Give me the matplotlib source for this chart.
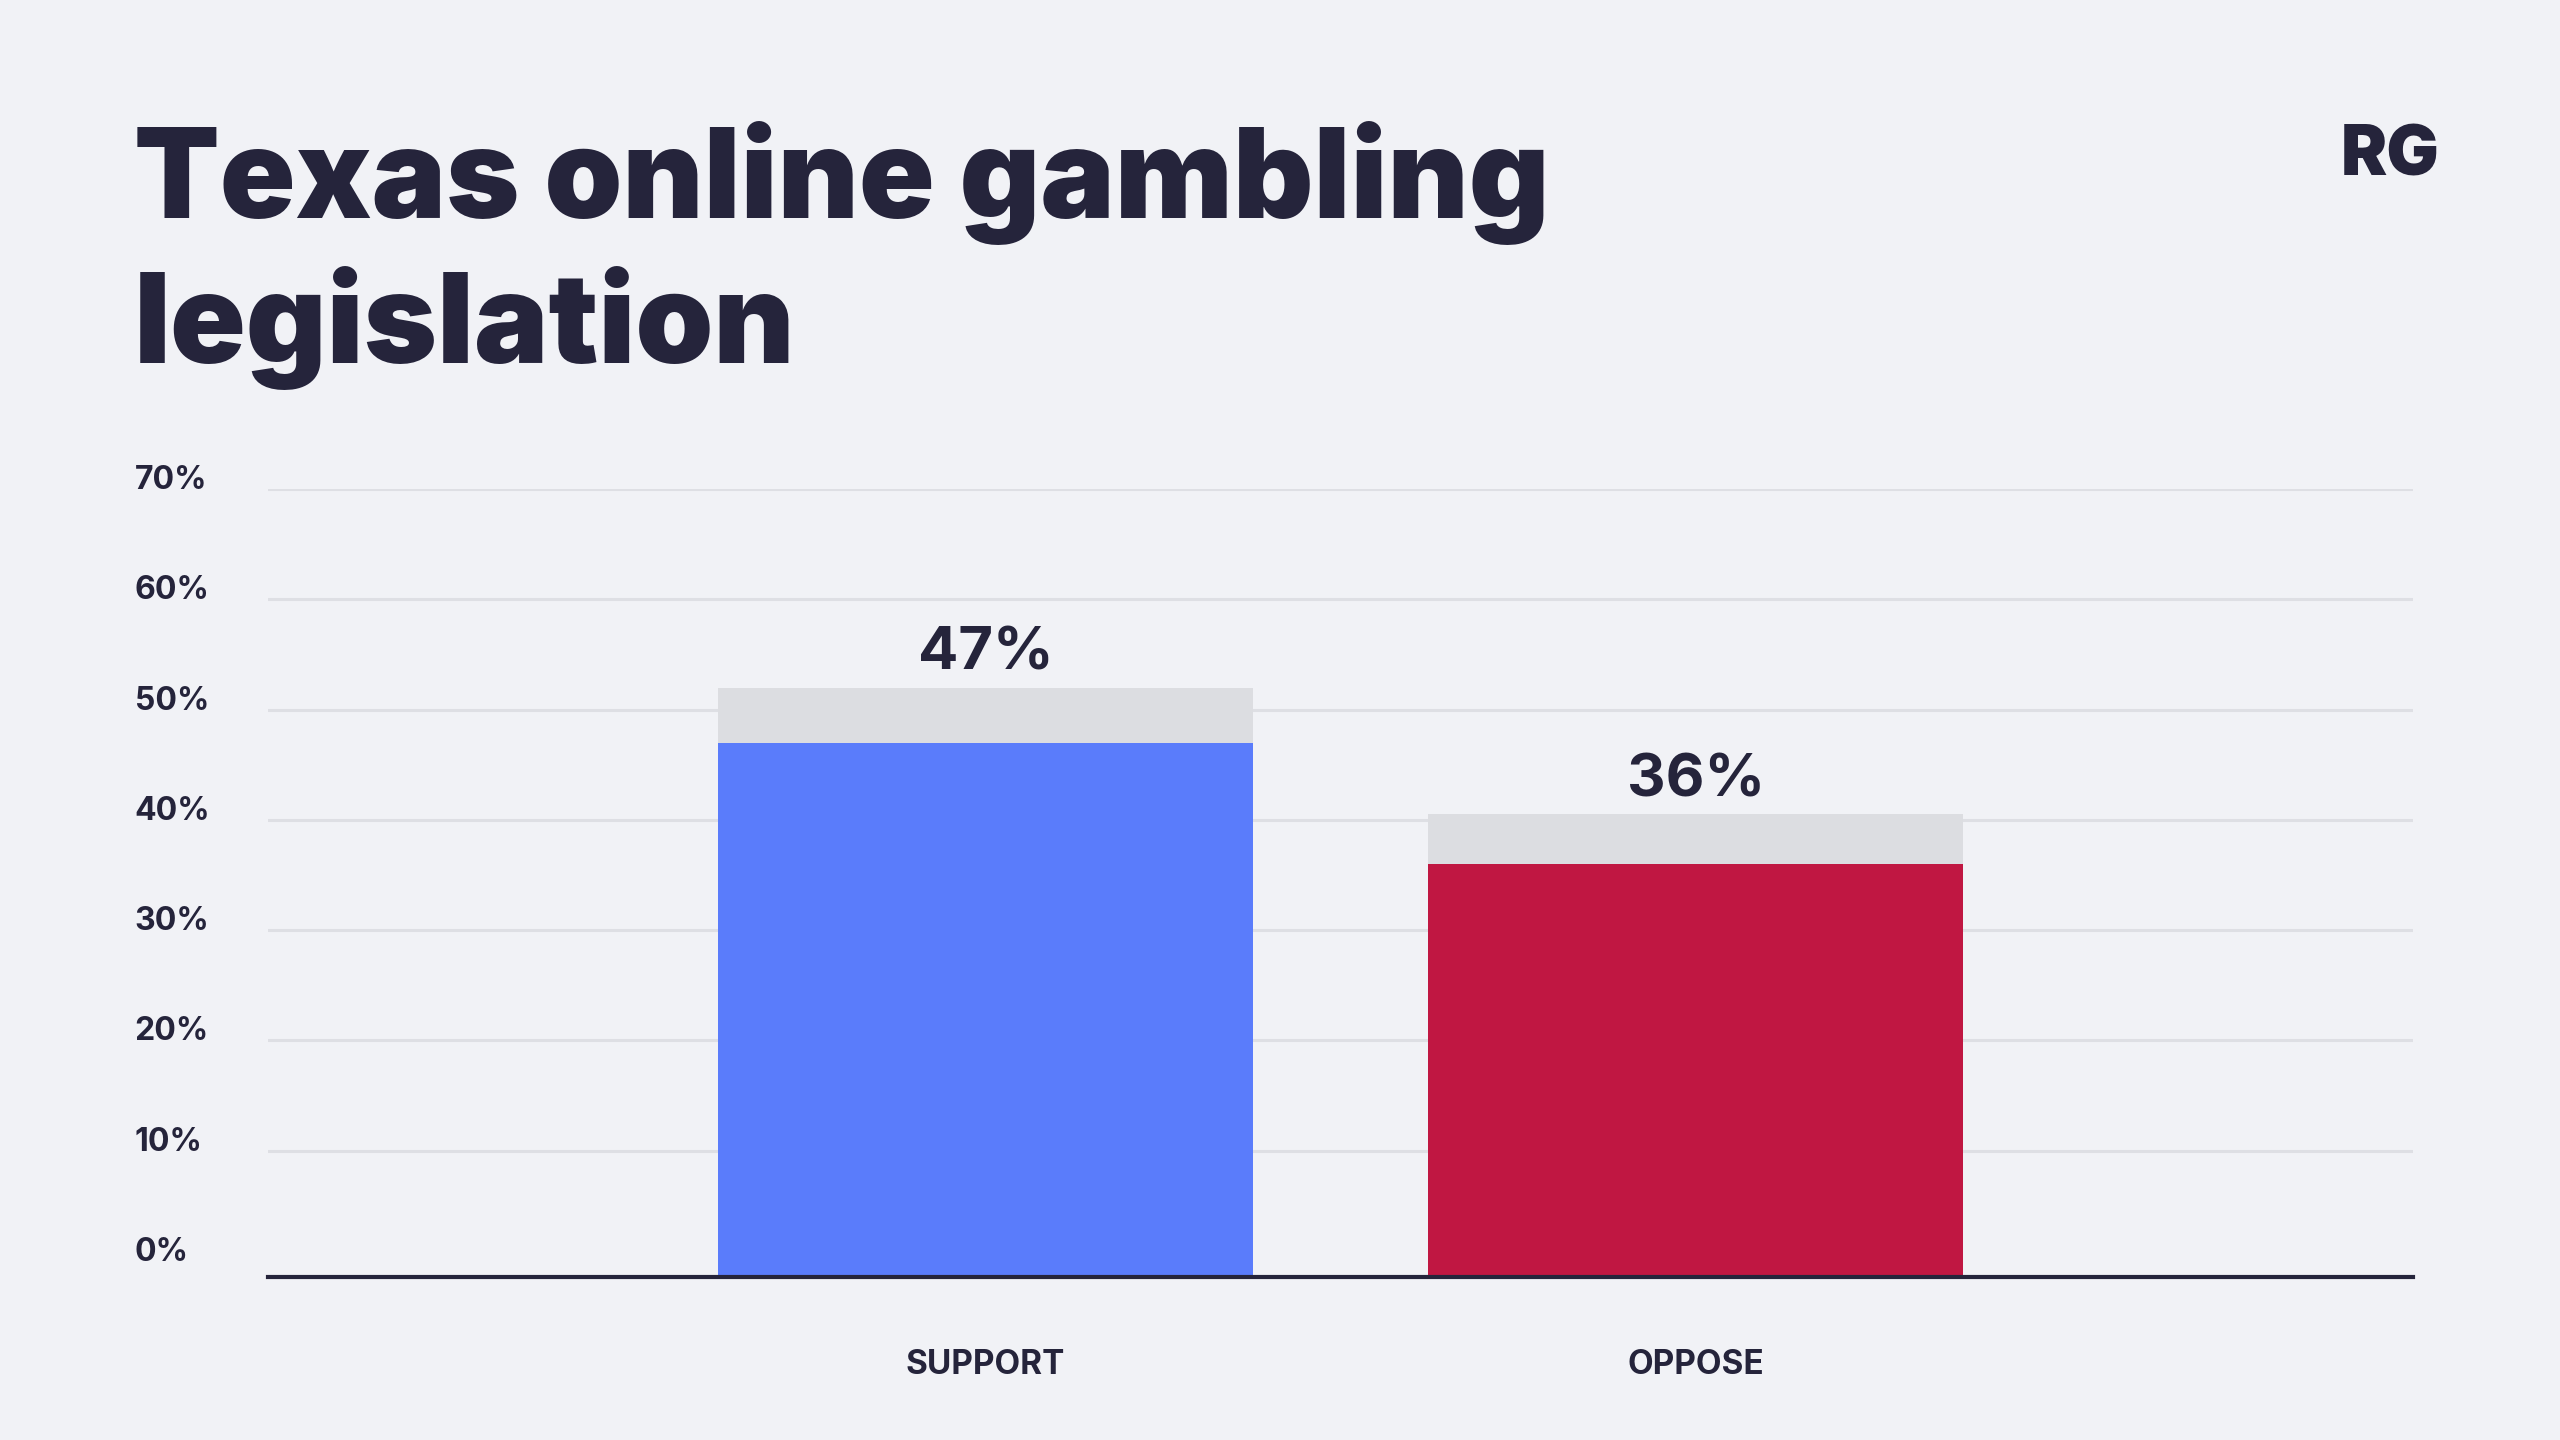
import matplotlib
matplotlib.use('Agg')
import matplotlib.pyplot as plt

# Chart data
categories = ['SUPPORT', 'OPPOSE']
values = [47, 36]
upper = [52, 40.5]          # top of the light grey band above each bar
yticks = [0, 10, 20, 30, 40, 50, 60, 70]
ytick_labels = ['0%', '10%', '20%', '30%', '40%', '50%', '60%', '70%']
value_labels = ['47%', '36%']
title_lines = ['Texas online gambling', 'legislation']

# Colours
bg = '#F1F2F6'
ink = '#25243B'
bar_colors = ['#5A7CFB', '#C01742']
band_color = '#DCDDE1'
grid_color = '#DEDFE4'

plt.rcParams['font.family'] = ['Inter', 'DejaVu Sans']

fig = plt.figure(figsize=(25.6, 14.4), dpi=100, facecolor=bg)
ax = fig.add_axes([0.1047, 0.1132, 0.9426 - 0.1047, 0.6604 - 0.1132])
ax.set_facecolor(bg)

ymin = -1.45
x = list(range(len(categories)))

# grey band first, then the coloured bar on top of it
ax.bar(x, [u - ymin for u in upper], bottom=ymin, width=0.754, color=band_color, zorder=2)
ax.bar(x, [v - ymin for v in values], bottom=ymin, width=0.754, color=bar_colors, zorder=3)

for xi, u, lab in zip(x, upper, value_labels):
    ax.annotate(lab, (xi, u), xytext=(0, 13), textcoords='offset points',
                ha='center', va='baseline', fontsize=43, fontweight='bold', color=ink)

# gridlines (none at 0, the baseline takes its place)
for t in yticks[1:]:
    ax.axhline(t, color=grid_color, lw=2.2, zorder=1)

ax.set_xlim(-1.01, 2.01)
ax.set_ylim(ymin, 70)
ax.set_yticks(yticks)
ax.set_yticklabels(ytick_labels, ha='left', va='baseline', fontsize=23,
                   fontweight='bold', color=ink)
ax.tick_params(axis='y', length=0, pad=96)
ax.set_xticks(x)
ax.set_xticklabels(categories, fontsize=24, fontweight='bold', color=ink)
ax.tick_params(axis='x', length=0, pad=52)

for s in ['top', 'right', 'left']:
    ax.spines[s].set_visible(False)
ax.spines['bottom'].set_color(ink)
ax.spines['bottom'].set_linewidth(3)
ax.spines['bottom'].set_zorder(4)

# title, one line at a time so each baseline sits where the reference has it
for line, base in zip(title_lines, [218, 363]):
    fig.text(134 / 2560, 1 - base / 1440, line, ha='left', va='baseline', fontsize=90,
             fontweight='black', color=ink)
fig.text(2440 / 2560, 1 - 175 / 1440, 'RG', ha='right', va='baseline', fontsize=50,
         fontweight='black', color=ink)

fig.savefig('out.png', dpi=100, facecolor=bg)
